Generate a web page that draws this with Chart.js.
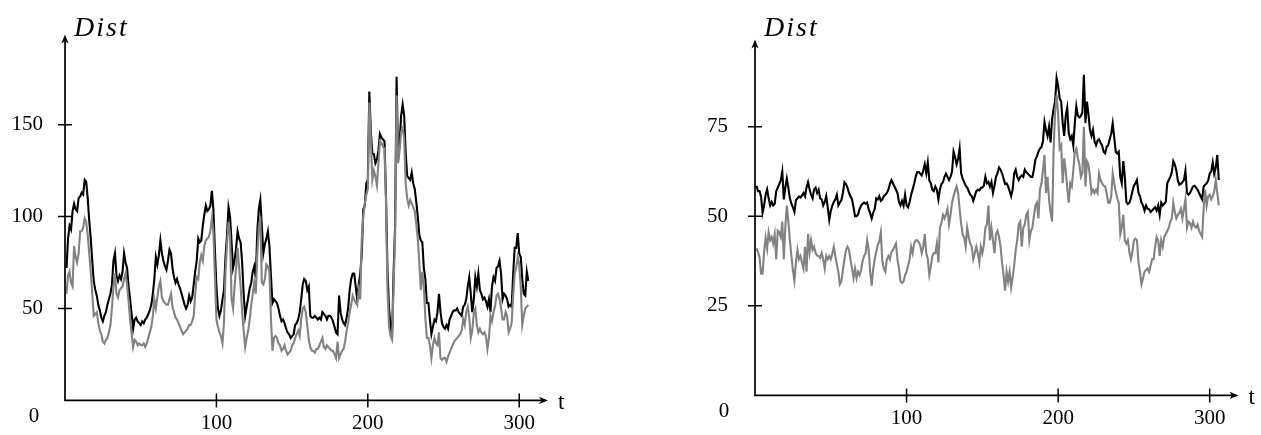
<!DOCTYPE html>
<html><head><meta charset="utf-8">
<script src="https://cdn.jsdelivr.net/npm/chart.js@4.4.1/dist/chart.umd.min.js"></script>
<style>html,body{margin:0;padding:0;background:#fff;overflow:hidden}.p{position:absolute;top:0}</style>
</head><body>
<div class="p" style="left:0;width:630px;height:435px"><canvas id="cL" width="630" height="435"></canvas></div>
<div class="p" style="left:630px;width:631px;height:435px"><canvas id="cR" width="631" height="435"></canvas></div>
<script>
// ---- data (t = 1..306) ----
const leftBlack = [
72,88,95,93,103,107,104,103,110,111,
113,112,120,119,110,98,88,76,65,60,
57,52,49,45,43,46,48,52,55,58,
63,76,80,68,65,68,66,70,80,75,
72,62,55,47,39,44,45,43,42,41,
43,42,44,45,47,49,52,58,66,78,
74,79,87,80,76,73,71,76,82,80,
72,67,64,66,63,61,58,55,52,50,
52,57,54,56,63,70,76,88,86,87,
95,101,106,103,104,106,114,104,82,62,
50,46,49,55,60,78,90,105,100,86,
72,76,83,92,88,86,75,58,46,51,
56,61,64,70,73,67,92,104,109,95,
80,85,88,92,84,68,53,55,54,53,
50,46,43,44,42,39,37,36,34,35,
36,41,42,44,48,55,63,66,65,60,
62,46,45,45,46,45,44,45,44,48,
47,46,44,46,46,45,43,40,37,36,
57,48,44,42,41,45,50,60,66,69,
69,62,55,63,69,80,104,106,118,120,
168,146,134,134,129,131,136,145,143,142,
141,111,70,50,41,34,69,94,176,131,
140,155,161,155,135,122,121,120,124,118,
115,108,100,90,87,86,72,66,53,53,
44,36,40,44,43,48,58,48,42,40,
39,41,39,44,46,48,49,49,50,48,
47,46,51,52,55,62,67,58,48,55,
67,62,69,60,58,55,56,54,51,55,
48,62,67,65,72,73,76,69,55,58,
57,55,51,52,51,69,83,83,91,80,
78,66,58,57,70,65];
const leftGray = [
58,68,70,64,62,84,78,75,80,92,
92,94,99,97,90,80,70,58,46,47,
48,42,38,36,32,31,33,34,37,41,
50,62,69,58,56,60,61,62,66,69,
63,54,44,36,29,33,32,30,31,30,
30,31,29,31,34,37,40,46,55,50,
56,62,65,56,54,53,52,52,55,58,
51,48,45,44,42,40,38,36,37,38,
39,41,41,43,46,58,67,66,75,79,
76,84,87,88,89,92,99,92,68,44,
40,37,35,31,42,70,85,97,90,55,
50,62,72,83,72,62,48,38,29,34,
38,44,52,58,64,58,80,94,100,64,
63,66,74,73,70,45,27,34,35,34,
31,30,27,28,30,27,25,26,27,30,
31,34,36,38,35,44,50,51,48,41,
33,29,27,27,26,28,28,30,32,34,
29,28,30,29,28,27,27,25,23,32,
23,25,27,28,32,38,42,48,52,57,
55,53,52,60,55,88,100,107,112,115,
162,142,120,125,122,117,129,141,140,138,
137,108,60,40,35,33,62,90,166,129,
136,146,148,143,118,110,106,109,107,105,
103,96,88,75,60,70,62,45,34,34,
30,23,30,34,31,30,37,23,22,23,
23,21,24,26,28,30,32,33,34,35,
36,38,44,41,48,51,45,34,38,48,
50,41,37,39,37,36,37,35,28,34,
46,43,48,51,57,58,55,50,44,44,
48,46,37,39,42,57,69,72,78,74,
62,41,46,50,51,52];
const rightBlack = [
58.5,57,57,55.5,51,53,56,57.5,55,53,
54,53,53.5,57,58,59,60,62.5,54.7,58,
60.5,58,55,53.5,52.5,51.2,54.5,55,55.5,55.2,
55.8,56.5,55.6,58,59.5,57.5,56,55,57.5,58,
56.5,57.4,55,54.7,53,54,55.6,52.5,49,51.5,
53,54,54.7,56,53,53.8,54.5,56.5,59.5,59,
58,56.5,55.6,54.7,52.5,50,50,50.5,52,53,
53.5,53.8,53.5,53.8,52,50.8,49.4,51,52,55,
54.7,55.6,54.3,54.7,55.6,56,56.5,57.4,59,60.1,
59.2,58.3,57.4,56.5,54,53,54.3,53,56,53,
52.5,54,56,57.5,59,61,62.3,62.3,61.9,61.4,
62.7,64.5,62,65,60,59.2,57.4,57,58.3,57.4,
54.7,57.5,59,59.5,61,61.9,61,60.1,61,62.5,
68,66.5,64.5,66,68.9,62,60.5,59.5,58.5,58,
57,56,55.6,54.3,55.6,57,57.4,57.2,57.9,58,
58.5,61,59.2,59.6,58.3,59.6,56.5,58.5,61,62,
63.6,63,62,60.5,59,59.2,58.3,57,55.6,57.5,
62,63,61,60.1,61,61.4,61,63,62.3,61.9,
61.4,61,61,63,65.8,66.7,68,68.9,69.3,71,
76.3,74,72.4,75,70.6,77,80,82,88.6,86.4,
82.9,82,76,72.4,78,80.3,73.2,71.5,72.4,69.8,
76,80.7,78.1,77.6,78,79,89.5,76,82,78.5,
74.1,72.4,74.1,71,69.8,71.1,71.5,70.5,69.8,68,
67.6,69.3,69.8,71.5,73,75.9,72,68,67.5,68,
61,59.2,65.4,61,54,53.4,53.8,55,57,58.5,
59.2,60.1,56.5,55.6,53.8,53,51.6,53,52.1,52,
51.2,51.6,52.1,52.5,51.6,53,50.4,53.8,53,53.5,
54,59.2,60.1,61,62.3,65.4,64.5,62.7,60,58.8,
59,59.5,60.1,62.7,56.5,56,56.5,57.4,58.3,58.5,
58,57.4,56.5,55.6,54.7,58.3,58.8,59.2,60,61.9,
62.5,65,61.9,63.6,67.1,60.1];
const rightGray = [
41,40,38.5,34,34,40,44,41,45.5,43.3,
44.2,42.4,45,38,46,45.5,44.2,48.5,38,47,
53,48.5,43.3,39,35,32,37,40.6,38,38.9,
37,35.4,41.5,34.5,45,40,43.3,40.6,41.5,39.7,
39,38.9,38.4,39.7,38,35.4,38.9,38,38.9,38,
39.5,41.5,38.9,36.5,34.5,31,31.8,35,38,40.5,
41.5,40.6,38,35.4,32.7,35.4,32.7,34.5,33.6,35,
37.5,38.9,39.7,43.3,40.6,34.5,30.6,35.4,38,40,
42,43,45.5,37.5,35.4,34.5,38,38.9,38,40,
40.6,41.5,42.4,38,35.4,31.8,31.4,31.8,33.6,34.5,
36.2,38,41.5,39.7,42.4,43.3,43.3,42.8,41.9,39.7,
41.5,45,39.7,38,33.6,36,38.9,39.7,39.7,42.4,
37.1,46.8,48.1,50.4,49.4,50.5,52.1,47.7,50.4,53.8,
55.6,57,58.3,56.5,52.1,48,45,44,41.5,46.8,
44.2,42.4,41.5,38,39.7,41.5,39.7,37.1,41.5,39.7,
42,46.8,47.7,53,43.3,46.8,43.3,39.7,45,45.9,
44.2,41.5,37.1,33.6,29.2,34.5,31.8,34.5,30.1,33,
36.2,40.6,43.3,47.7,48.5,41.5,46.8,47.7,50.4,51.2,
43.3,45.9,46.8,50,53,53.8,49.4,57.4,59.2,62.7,
67.1,56.5,61,54.7,51,48.5,68,79.4,83.8,78.5,
68.9,69.8,59.2,66.2,62.7,58,53.8,59.2,58.3,62.7,
68,68.9,66.2,64.5,61,62,75,58.3,65.4,64.5,
61,56.5,57.4,56.5,57.4,56.5,61.9,60.1,59.2,58.5,
58.3,56.5,53.8,53.8,55.5,61.9,59.2,57,55,53.8,
45,47,50.4,43.3,42.4,43.3,40,38,40,43.3,
43.7,43.3,37.1,34.5,31,32.7,34.5,35,35.4,34.5,
36.2,38,38,41.5,44.2,43.3,38.9,43.3,41.5,44.2,
45,45.9,46.8,48.5,49.4,53.8,51.2,49.4,50.4,51,
52.1,49.4,52.1,54.7,46.8,48.5,48.1,46.8,48.5,47.2,
46.8,47.7,46,45,44.2,52.1,57.4,53,55.6,56,
54.7,55.6,57,60.1,56.5,53];
const timeSteps = leftBlack.map((_, i) => i + 1);
const xTicks = [100, 200, 300];
const leftYTicks = [50, 100, 150];
const rightYTicks = [25, 50, 75];
const yLabel = 'Dist';
const xLabel = 't';
const originLabel = '0';

// ---- drawing ----
const SERIF = '"Liberation Serif", "Times New Roman", serif';
function toXY(vals) { return vals.map((v, i) => ({ x: timeSteps[i], y: v })); }

const axesPlugin = {
  id: 'axesArrows',
  afterDraw(chart) {
    const { ctx, chartArea: a, scales: { x, y } } = chart;
    const x0 = x.getPixelForValue(0), y0 = y.getPixelForValue(0);
    ctx.save();
    ctx.strokeStyle = '#000'; ctx.fillStyle = '#000'; ctx.lineWidth = 1.7;
    ctx.beginPath();
    ctx.moveTo(x0, y0); ctx.lineTo(a.right - 3, y0);
    ctx.moveTo(x0, y0 + 0.85); ctx.lineTo(x0, a.top + 3);
    ctx.stroke();
    const head = (tx, ty, ang) => {
      ctx.save(); ctx.translate(tx, ty); ctx.rotate(ang);
      ctx.beginPath(); ctx.moveTo(0, 0); ctx.lineTo(-9, -3.6); ctx.lineTo(-6.5, 0); ctx.lineTo(-9, 3.6); ctx.closePath(); ctx.fill();
      ctx.restore();
    };
    head(a.right, y0, 0);
    head(x0, a.top, -Math.PI / 2);
    ctx.lineWidth = 1.5;
    ctx.beginPath();
    x.ticks.forEach(t => { const px = x.getPixelForValue(t.value); ctx.moveTo(px, y0 - 7); ctx.lineTo(px, y0 + 7); });
    y.ticks.forEach(t => { const py = y.getPixelForValue(t.value); ctx.moveTo(x0 - 7, py); ctx.lineTo(x0 + 7, py); });
    ctx.stroke();
    ctx.textBaseline = 'alphabetic'; ctx.textAlign = 'left';
    ctx.font = 'italic 28px ' + SERIF;
    try { ctx.letterSpacing = '2px'; } catch (e) {}
    ctx.fillText(yLabel, x0 + 9, 36);
    try { ctx.letterSpacing = '0px'; } catch (e) {}
    ctx.font = '23px ' + SERIF;
    ctx.fillText(xLabel, a.right + 10, y0 + 9);
    ctx.font = '21px ' + SERIF;
    ctx.textAlign = 'center'; ctx.textBaseline = 'middle';
    ctx.fillText(originLabel, x0 - 31, y0 + 16);
    ctx.restore();
  }
};

function makeChart(id, black, gray, yMax, yTicks, axisLeft, padRight, labelPad) {
  const tickFont = { family: SERIF, size: 21 };
  return new Chart(document.getElementById(id), {
    type: 'line',
    data: { datasets: [
      { data: toXY(gray), borderColor: '#828282', borderWidth: 2.1, pointRadius: 0, tension: 0, fill: false },
      { data: toXY(black), borderColor: '#000000', borderWidth: 2.1, pointRadius: 0, tension: 0, fill: false }
    ]},
    options: {
      responsive: false, animation: false, devicePixelRatio: 1,
      layout: { padding: { left: 0, top: 28, right: padRight, bottom: 0 } },
      plugins: { legend: { display: false }, tooltip: { enabled: false } },
      scales: {
        x: {
          type: 'linear', min: 0, max: 319,
          grid: { display: false, drawTicks: false }, border: { display: false },
          afterBuildTicks: s => { s.ticks = xTicks.map(v => ({ value: v })); },
          afterFit: s => { s.height = 31; },
          ticks: { font: tickFont, color: '#000', padding: 10, maxRotation: 0, autoSkip: false }
        },
        y: {
          type: 'linear', min: 0, max: yMax,
          grid: { display: false, drawTicks: false }, border: { display: false },
          afterBuildTicks: s => { s.ticks = yTicks.map(v => ({ value: v })); },
          afterFit: s => { s.width = axisLeft; },
          ticks: { font: tickFont, color: '#000', padding: labelPad, autoSkip: false }
        }
      }
    },
    plugins: [axesPlugin]
  });
}

makeChart('cL', leftBlack, leftGray, 199, leftYTicks, 65, 82, 22);
makeChart('cR', rightBlack, rightGray, 99.3, rightYTicks, 125, 22.5, 27);
</script>
</body></html>
